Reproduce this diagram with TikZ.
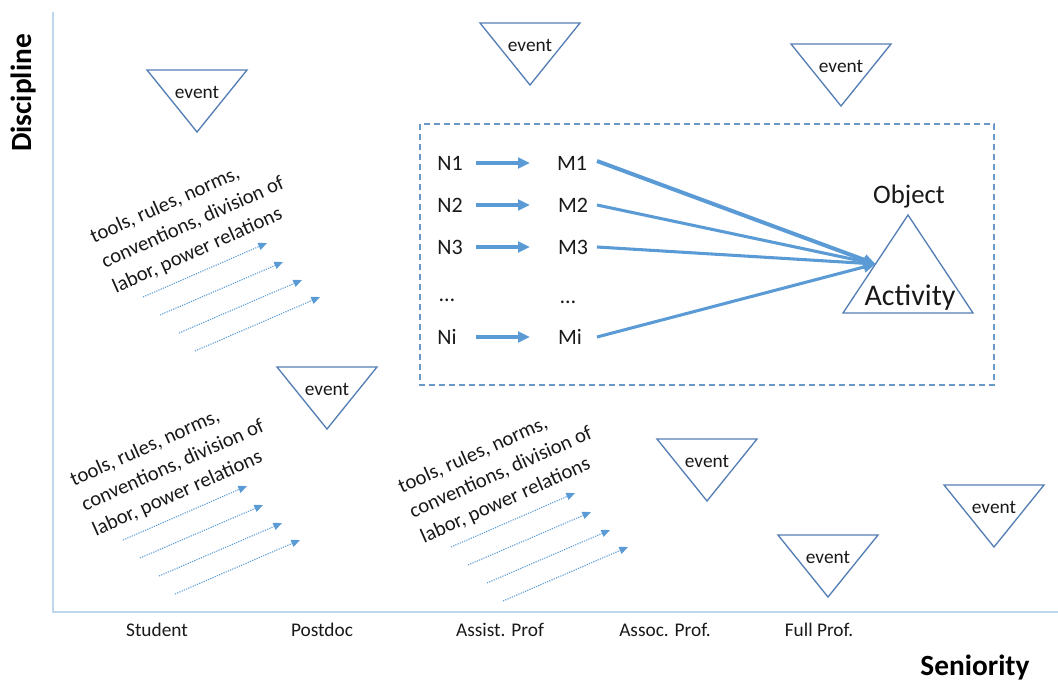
\documentclass[tikz,border=0pt]{standalone}
\usepackage{fontspec}
\setmainfont{Carlito}
\usetikzlibrary{arrows.meta,calc}
\definecolor{axisblue}{RGB}{189,215,238}
\definecolor{triblue}{RGB}{84,126,180}
\definecolor{arrblue}{RGB}{91,155,213}
\definecolor{boxblue}{RGB}{106,152,200}
\definecolor{txt}{RGB}{25,25,25}
\begin{document}
\begin{tikzpicture}[x=0.75pt,y=-0.75pt,
  axis/.style={draw=axisblue,line width=1.5pt},
  tri/.style={draw=triblue,line width=1pt,line join=miter},
  evt/.style={font=\fontsize{14.5}{17}\selectfont,text=txt,inner sep=0pt},
  lab/.style={font=\fontsize{14.5}{17}\selectfont,text=txt,inner sep=0pt},
  big/.style={font=\fontsize{22}{26}\selectfont\bfseries,text=black,inner sep=0pt},
  nm/.style={font=\fontsize{16.5}{20}\selectfont,text=txt,inner sep=0pt},
  rules/.style={font=\fontsize{15.5}{20.5}\selectfont,text=txt,align=left,rotate=24,inner sep=0pt},
  dotarr/.style={draw=arrblue,line width=0.8pt,dash pattern=on 0.9pt off 0.9pt,-{Triangle[length=6.5pt,width=5.5pt]}},
  thickarr/.style={draw=arrblue,line width=2.3pt,-{Triangle[length=9pt,width=8pt]}},
  dbox/.style={draw=boxblue,line width=1.1pt,dash pattern=on 4.5pt off 3pt}]
\useasboundingbox (0,0) rectangle (1058,682);
% axes
\coordinate (otop) at (53,12);
\coordinate (orig) at (53,612);
\coordinate (xend) at (1058,612);
\draw[axis] (otop) -- (orig) -- (xend);
\node[big,rotate=90] (disc) at (24,93) {Discipline};
\node[big] (sen) at (975,668) {Seniority};
\node[lab] (stu) at (157,630) {Student};
\node[lab] (pdoc) at (322,630) {Postdoc};
\node[lab] (asst) at (500,630) {Assist. Prof};
\node[lab] (asso) at (665,630) {Assoc. Prof.};
\node[lab] (full) at (819,630) {Full Prof.};
% events
\foreach \n/\x/\y in {1/197/70, 2/530/23, 3/841/44, 4/327/367, 5/707/439, 6/828/535, 7/994/485} {
  \draw[tri] (\x-50,\y) -- (\x+50,\y) -- (\x,\y+62) -- cycle;
  \node[evt] (ev\n) at (\x,\y+22) {event};
}
% rules groups
\foreach \g/\dx/\dy in {1/0/0, 2/-20/243, 3/308/250} {
  \node[rules] (rules\g) at (193+\dx,223+\dy) {tools, rules, norms,\\conventions, division of\\labor, power relations};
  \foreach \k/\sx/\sy/\ex/\ey in {1/143/297/267/243, 2/160/315/283/262, 3/179/333/302/280, 4/195/351/320/297} {
    \coordinate (g\g-s\k) at (\sx+\dx,\sy+\dy);
    \coordinate (g\g-e\k) at (\ex+\dx,\ey+\dy);
    \draw[dotarr] (g\g-s\k) -- (g\g-e\k);
  }
}
% dashed box
\draw[dbox] (420,124) rectangle (994,385);
% N and M
\node[nm] (N1) at (450,163) {N1};
\node[nm] (N2) at (450,205) {N2};
\node[nm] (N3) at (450,247) {N3};
\node[nm] (Nd) at (447,300) {…};
\node[nm] (Ni) at (447,337) {Ni};
\node[nm] (M1) at (572,163) {M1};
\node[nm] (M2) at (573,205) {M2};
\node[nm] (M3) at (573,247) {M3};
\node[nm] (Md) at (568,302) {…};
\node[nm] (Mi) at (570,337) {Mi};
\coordinate (ns) at (476,0);
\coordinate (me) at (530,0);
\coordinate (ls) at (597,0);
\foreach \r in {1,2,3,i} {
  \draw[thickarr] (N\r -| ns) -- (M\r -| me);
}
% activity triangle
\coordinate (apx) at (908,215);
\coordinate (abl) at (843,313);
\coordinate (abr) at (973,313);
\draw[tri] (apx) -- (abl) -- (abr) -- cycle;
\coordinate (tip) at ($(apx)!0.5!(abl)$);
\node[font=\fontsize{20}{24}\selectfont,text=txt,inner sep=0pt] (obj) at (909,197) {Object};
\node[font=\fontsize{22.5}{27}\selectfont,text=txt,inner sep=0pt] (act) at (910,298) {Activity};
\draw[thickarr,line width=3pt] ([yshift=1.5pt]M1 -| ls) -- (tip);
\draw[thickarr] (M2 -| ls) -- (tip);
\draw[thickarr] (M3 -| ls) -- (tip);
\draw[thickarr] (Mi -| ls) -- (tip);
\end{tikzpicture}
\end{document}
